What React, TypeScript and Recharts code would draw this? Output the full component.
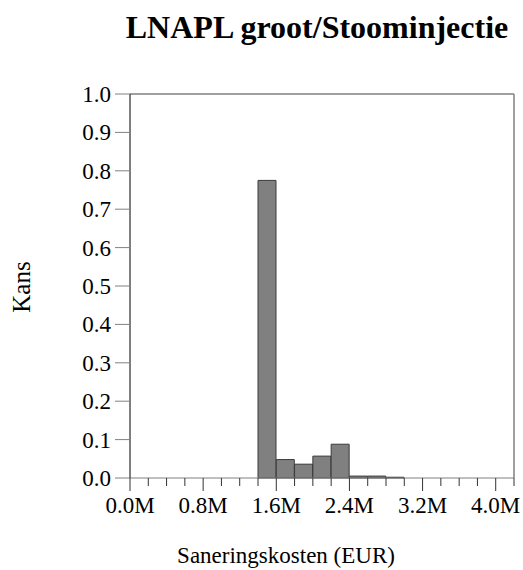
import React from 'react';
import { ComposedChart, Bar, XAxis, YAxis, ReferenceLine } from 'recharts';

// Histogram bins (start of each 0.2M bin, EUR) and their probability
const binStarts = [1400000, 1600000, 1800000, 2000000, 2200000, 2400000, 2600000, 2800000];
const binWidth = 200000;
const probabilities = [0.775, 0.048, 0.036, 0.057, 0.088, 0.005, 0.005, 0.002];

// Axis ticks
const xTicks = [
  0, 200000, 400000, 600000, 800000, 1000000, 1200000, 1400000, 1600000, 1800000, 2000000,
  2200000, 2400000, 2600000, 2800000, 3000000, 3200000, 3400000, 3600000, 3800000, 4000000, 4200000,
];
const xMajorTicks = [0, 800000, 1600000, 2400000, 3200000, 4000000];
const xMajorLabels = ['0.0M', '0.8M', '1.6M', '2.4M', '3.2M', '4.0M'];
const yTicks = [0, 0.1, 0.2, 0.3, 0.4, 0.5, 0.6, 0.7, 0.8, 0.9, 1.0];
const yTickLabels = ['0.0', '0.1', '0.2', '0.3', '0.4', '0.5', '0.6', '0.7', '0.8', '0.9', '1.0'];

const title = 'LNAPL groot/Stoominjectie';
const xTitle = 'Saneringskosten (EUR)';
const yTitle = 'Kans';

const data = binStarts.map((s, i) => ({ x: s + binWidth / 2, p: probabilities[i] }));

const FONT = "'Liberation Serif', monospace";

const XTick = (props: any) => {
  const { x, y, payload } = props;
  const idx = xMajorTicks.indexOf(payload.value);
  const major = idx >= 0;
  return (
    <g>
      <line x1={x} x2={x} y1={y} y2={y + (major ? 13 : 8)} stroke="#333" strokeWidth={1} />
      {major && (
        <text x={x} y={y + 35} textAnchor="middle" style={{ fontSize: 23, fontFamily: FONT }} fill="#000">
          {xMajorLabels[idx]}
        </text>
      )}
    </g>
  );
};

const YTick = (props: any) => {
  const { x, y, payload } = props;
  const idx = yTicks.indexOf(payload.value);
  return (
    <text x={x} y={y + 8} textAnchor="end" style={{ fontSize: 23, fontFamily: FONT }} fill="#000">
      {yTickLabels[idx]}
    </text>
  );
};

export default function App() {
  return (
    <div style={{ position: 'absolute', left: 0, top: 0, width: 523, height: 570, background: '#fff', fontFamily: FONT }}>
      <div
        style={{
          position: 'absolute',
          left: 117,
          width: 400,
          top: 9,
          textAlign: 'center',
          fontFamily: FONT,
          fontWeight: 'bold',
          fontSize: 32,
          lineHeight: '36px',
          whiteSpace: 'nowrap',
        }}
      >
        {title}
      </div>
      <div
        style={{
          position: 'absolute',
          left: 22,
          top: 287,
          transform: 'translate(-50%, -50%) rotate(-90deg)',
          fontFamily: FONT,
          fontSize: 25,
          lineHeight: '28px',
          whiteSpace: 'nowrap',
        }}
      >
        {yTitle}
      </div>
      <div
        style={{
          position: 'absolute',
          left: 286,
          top: 543,
          transform: 'translateX(-50%)',
          fontFamily: FONT,
          fontSize: 23,
          lineHeight: '26px',
          whiteSpace: 'nowrap',
        }}
      >
        {xTitle}
      </div>
      <div style={{ position: 'absolute', left: 0, top: 0 }}>
        <ComposedChart
          width={523}
          height={570}
          data={data}
          margin={{ top: 94, right: 9, left: 70, bottom: 62 }}
          barCategoryGap={0}
          barGap={0}
        >
          <XAxis
            dataKey="x"
            type="number"
            domain={[0, 4200000]}
            ticks={xTicks}
            interval={0}
            height={30}
            tickSize={0}
            tickMargin={0}
            tickLine={false}
            axisLine={{ stroke: '#808080' }}
            tick={<XTick />}
            allowDataOverflow
          />
          <YAxis
            type="number"
            domain={[0, 1]}
            ticks={yTicks}
            interval={0}
            width={60}
            tickSize={15}
            tickMargin={4}
            tickLine={{ stroke: '#808080' }}
            axisLine={{ stroke: '#000' }}
            tick={<YTick />}
          />
          <ReferenceLine y={1} stroke="#808080" strokeWidth={1.5} ifOverflow="visible" />
          <ReferenceLine x={4200000} stroke="#808080" strokeWidth={1.5} ifOverflow="visible" />
          <Bar dataKey="p" fill="#808080" stroke="#3a3a3a" strokeWidth={1} isAnimationActive={false} />
        </ComposedChart>
      </div>
    </div>
  );
}
